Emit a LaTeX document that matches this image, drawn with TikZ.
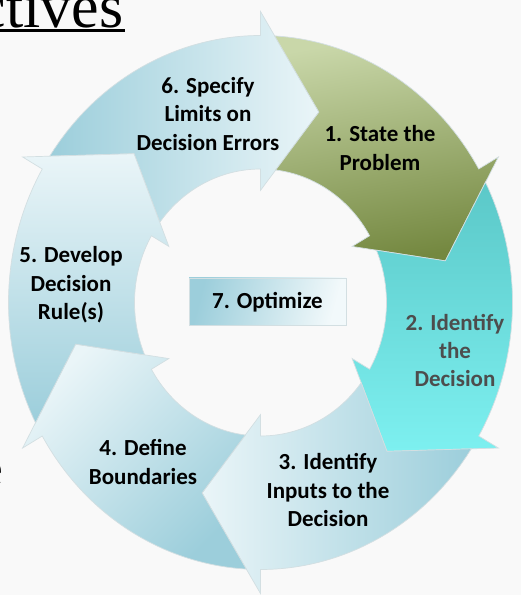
\documentclass[tikz,border=0pt]{standalone}
\usepackage{fontspec}
\setmainfont{Carlito}
\newfontfamily\titlefont{Liberation Serif}
\definecolor{bgc}{HTML}{F9F9F9}
\definecolor{blueD}{HTML}{9CCEDB}
\definecolor{blueL}{HTML}{EAF5F8}
\definecolor{greenL}{HTML}{C9D7A9}
\definecolor{greenD}{HTML}{748840}
\definecolor{cyanD}{HTML}{5BC8C8}
\definecolor{cyanL}{HTML}{7DF0F0}
\definecolor{segline}{HTML}{D3DFE2}
\definecolor{txtgray}{HTML}{4D4D4D}
\tikzset{
  seg/.style={draw=segline, line width=0.7pt, line join=miter},
  lbl/.style={font=\fontsize{23}{28.5}\selectfont\bfseries, align=center, inner sep=0pt},
  optbox/.style={draw=segline, line width=0.7pt, minimum width=157pt, minimum height=47pt,
     top color=blueD, bottom color=blueL!60!white, shading angle=75,
     font=\fontsize{23}{28.5}\selectfont\bfseries, text height=14.8pt, text depth=0pt}
}
\begin{document}
\begin{tikzpicture}[x=1pt,y=1pt]
\useasboundingbox (0,0) rectangle (521,595);
\fill[bgc] (0,0) rectangle (521,595);
% title fragment
\node[inner sep=0pt, anchor=base west, font=\titlefont\fontsize{62}{62}\selectfont] (title) at (-21.3,567.5) {ctives};
\draw[line width=3pt] (-5,564) -- (125,564);
\node[inner sep=0pt, anchor=base east, font=\fontsize{54}{54}\selectfont] (frag) at (4,108) {e};
% ring segments
\begin{scope}[shift={(260.5,292.5)}, xscale=252, yscale=267]
% 6
\path[seg, top color=blueL, bottom color=blueD, shading angle=-90]
 (146.77:1) arc[start angle=146.77, end angle=90, radius=1] -- (90:1.09) -- (72:0.75) -- (90:0.42) -- (90:0.5)
 arc[start angle=90, end angle=143.07, radius=0.5] -- (132:0.75) -- cycle;
% 1
\path[seg, top color=greenL, bottom color=greenD, shading angle=10]
 (86.77:1) arc[start angle=86.77, end angle=30, radius=1] -- (30:1.09) -- (12:0.75) -- (30:0.42) -- (30:0.5)
 arc[start angle=30, end angle=83.07, radius=0.5] -- (72:0.75) -- cycle;
% 2
\path[seg, top color=cyanD, bottom color=cyanL, shading angle=0]
 (26.77:1) arc[start angle=26.77, end angle=-30, radius=1] -- (-30:1.09) -- (-48:0.75) -- (-30:0.42) -- (-30:0.5)
 arc[start angle=-30, end angle=23.07, radius=0.5] -- (12:0.75) -- cycle;
% 3
\path[seg, top color=blueL, bottom color=blueD, shading angle=90]
 (-33.23:1) arc[start angle=-33.23, end angle=-90, radius=1] -- (-90:1.09) -- (-108:0.75) -- (-90:0.42) -- (-90:0.5)
 arc[start angle=-90, end angle=-36.93, radius=0.5] -- (-48:0.75) -- cycle;
% 4
\path[seg, top color=blueL, bottom color=blueD, shading angle=45]
 (-93.23:1) arc[start angle=-93.23, end angle=-150, radius=1] -- (-150:1.09) -- (-168:0.75) -- (-150:0.42) -- (-150:0.5)
 arc[start angle=-150, end angle=-96.93, radius=0.5] -- (-108:0.75) -- cycle;
% 5
\path[seg, top color=blueL, bottom color=blueD, shading angle=0]
 (206.77:1) arc[start angle=206.77, end angle=150, radius=1] -- (150:1.09) -- (132:0.75) -- (150:0.42) -- (150:0.5)
 arc[start angle=150, end angle=203.07, radius=0.5] -- (192:0.75) -- cycle;
\end{scope}
% labels
\node[lbl] (l6) at (208,481) {6. Specify\\Limits on\\Decision Errors};
\node[lbl] (l1) at (380,447) {1. State the\\Problem};
\node[lbl, text=txtgray] (l2) at (455,244.5) {2. Identify\\the\\Decision};
\node[lbl] (l3) at (328,105) {3. Identify\\Inputs to the\\Decision};
\node[lbl] (l4) at (143,133) {4. Define\\Boundaries};
\node[lbl] (l5) at (71,310) {5. Develop\\Decision\\Rule(s)};
\node[optbox] (l7) at (267.5,293.5) {7. Optimize};
\end{tikzpicture}
\end{document}
